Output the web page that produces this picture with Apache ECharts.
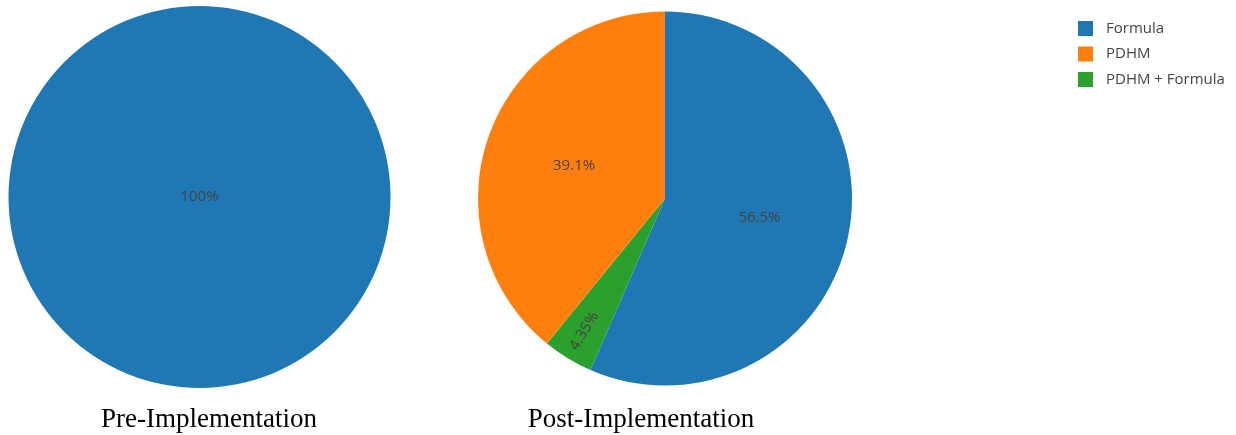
<!DOCTYPE html>
<html>
<head>
<meta charset="utf-8">
<script src="https://cdn.jsdelivr.net/npm/echarts@6/dist/echarts.min.js"></script>
<style>
html,body{margin:0;padding:0;background:#fff;}
#chart{width:1236px;height:435px;}
</style>
</head>
<body>
<div id="chart"></div>
<script>
// Data
const categories = ['Formula', 'PDHM', 'PDHM + Formula'];
const colors = ['#1f77b4', '#ff7f0e', '#2ca02c'];
const preCategories = ['Formula'];
const preValues = [100];
// drawn clockwise from 12 o'clock
const postCategories = ['Formula', 'PDHM + Formula', 'PDHM'];
const postValues = [56.5, 4.35, 39.1];
const titles = ['Pre-Implementation', 'Post-Implementation'];

const colorOf = name => colors[categories.indexOf(name)];

const chart = echarts.init(document.getElementById('chart'), null, {renderer: 'canvas'});

const labelStyle = {
  color: '#444',
  fontFamily: 'Open Sans',
  fontSize: 15,
  formatter: p => p.value + '%'
};

function midAngle(values, idx) {
  const total = values.reduce((a, b) => a + b, 0);
  let before = 0;
  for (let i = 0; i < idx; i++) before += values[i];
  return ((before + values[idx] / 2) / total) * 2 * Math.PI;
}

const smallIdx = postCategories.indexOf('PDHM + Formula');
const postCenter = [665, 198.5];
const postRadius = 187;

const titleStyle = {fontFamily: 'Liberation Serif', fontSize: 27, fontWeight: 'normal', color: '#000'};

chart.setOption({
  animation: false,
  title: [
    {text: titles[0], left: 204, top: 401, textAlign: 'center', textStyle: titleStyle},
    {text: titles[1], left: 636, top: 401, textAlign: 'center', textStyle: titleStyle}
  ],
  legend: {
    data: categories,
    orient: 'vertical',
    left: 1073,
    top: 16,
    itemWidth: 15,
    itemHeight: 15,
    itemGap: 10.5,
    icon: 'rect',
    textStyle: {fontFamily: 'Open Sans', fontSize: 15, color: '#444', padding: [0, 0, 0, 8]}
  },
  series: [
    {
      type: 'pie',
      center: [199.5, 197],
      radius: [0, 191],
      startAngle: 90,
      clockwise: true,
      avoidLabelOverlap: false,
      label: Object.assign({show: true, position: 'center'}, labelStyle),
      labelLine: {show: false},
      emphasis: {disabled: true},
      data: preCategories.map((n, i) => ({name: n, value: preValues[i], itemStyle: {color: colorOf(n)}}))
    },
    {
      type: 'pie',
      center: postCenter,
      radius: [0, postRadius],
      startAngle: 90,
      clockwise: true,
      avoidLabelOverlap: false,
      label: Object.assign({show: true, position: 'inside'}, labelStyle),
      labelLine: {show: false},
      emphasis: {disabled: true},
      labelLayout: function (params) {
        if (params.dataIndex === smallIdx) {
          const a = midAngle(postValues, smallIdx);
          const r = postRadius * 0.83;
          return {
            x: postCenter[0] + r * Math.sin(a),
            y: postCenter[1] - r * Math.cos(a),
            align: 'center',
            verticalAlign: 'middle'
          };
        }
        return {};
      },
      data: postCategories.map((n, i) => ({
        name: n, value: postValues[i], itemStyle: {color: colorOf(n)},
        label: i === smallIdx ? {rotate: 'radial'} : undefined
      }))
    }
  ]
});
</script>
</body>
</html>
